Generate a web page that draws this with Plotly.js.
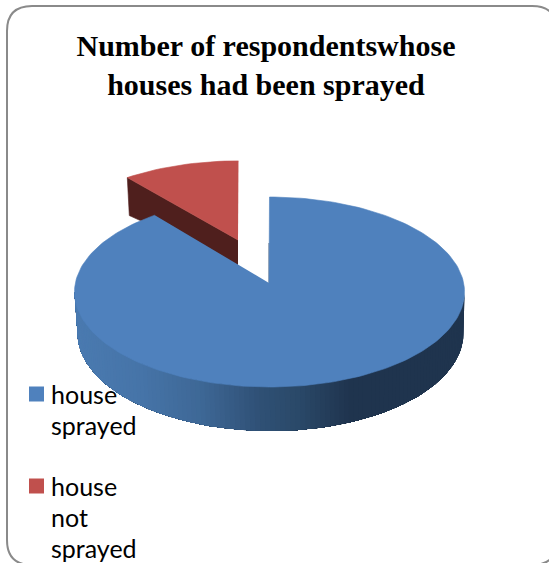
<!DOCTYPE html>
<html>
<head>
<meta charset="utf-8">
<script src="https://cdn.plot.ly/plotly-3.0.1.min.js"></script>
<style>html,body{margin:0;padding:0;background:#fff}#chart{width:549px;height:563px}</style>
</head>
<body>
<div id="chart"></div>
<script>
// Survey figures
const categories = ['house sprayed', 'house not sprayed'];
const respondents = [90, 10];
const legendLines = [['house', 'sprayed'], ['house', 'not', 'sprayed']];
const chartTitle = 'Number of respondentswhose<br>houses had been sprayed';

// Colours
const faceColors = ['#4f81bd', '#c0504d'];
const wallRed = '#4f1f1d';
const wallStops = [[75, [74, 122, 176]], [140, [70, 116, 168]], [200, [62, 104, 150]],
                   [260, [47, 80, 117]], [300, [42, 72, 104]], [350, [31, 52, 78]], [470, [31, 52, 78]]];

// Projection of the tilted disc, in plot units
const apex = {x: 269, y: 283};
const top3d = {cx: 269.5, cy: 292, rx: 195, ry: 95};
const base3d = {cx: 270.5, cy: 333, rx: 193, ry: 98};
const exploded = {dx: -31, dy: -43, sx: 0.97, sy: 0.92, wallInner: 25, wallOuter: 38, wallDrift: 2};

const total = respondents.reduce((a, b) => a + b, 0);
const blueSweep = 360 * respondents[0] / total;
const rad = d => d * Math.PI / 180;
const onEllipse = (e, deg) => [e.cx + e.rx * Math.sin(rad(deg)), e.cy - e.ry * Math.cos(rad(deg))];
const redPoint = deg => {
  const p = onEllipse(top3d, deg);
  return [apex.x + exploded.dx + exploded.sx * (p[0] - apex.x),
          apex.y + exploded.dy + exploded.sy * (p[1] - apex.y)];
};
function wallColor(x) {
  for (let i = 1; i < wallStops.length; i++) {
    if (x <= wallStops[i][0]) {
      const [x0, c0] = wallStops[i - 1], [x1, c1] = wallStops[i];
      const t = Math.max(0, (x - x0) / (x1 - x0));
      return 'rgb(' + c0.map((c, k) => Math.round(c + (c1[k] - c) * t)).join(',') + ')';
    }
  }
  return 'rgb(31,52,78)';
}
const poly = (pts, color, name, lineWidth) => ({
  type: 'scatter', mode: 'lines', x: pts.map(p => p[0]), y: pts.map(p => p[1]),
  fill: 'toself', fillcolor: color,
  line: {color: color, width: lineWidth === undefined ? 0.6 : lineWidth},
  hoverinfo: 'skip', showlegend: false, name: name
});
function arc(fn, from, to, step) {
  const out = [];
  const n = Math.ceil(Math.abs(to - from) / step);
  for (let i = 0; i <= n; i++) out.push(fn(from + (to - from) * i / n));
  return out;
}

const traces = [];

// Detached slice: cut wall first, then its face
const redStart = blueSweep;
const corner = redPoint(redStart);
const redApex = [apex.x + exploded.dx, apex.y + exploded.dy];
traces.push(poly([redApex, corner,
  [corner[0] + exploded.wallDrift, corner[1] + exploded.wallOuter],
  [redApex[0], redApex[1] + exploded.wallInner]], wallRed, categories[1] + ' wall'));
traces.push(poly([redApex].concat(arc(redPoint, redStart, 360, 2)), faceColors[1], categories[1]));

// Rim of the main slice: painted right to left, each band reaching the far end
// so that the next band covers it and the shading has no seams
const stripStep = 1.5;
for (let d = 90; d < 270; d += stripStep) {
  const upper = arc(a => onEllipse(top3d, a), d, 270, stripStep);
  const lower = arc(a => onEllipse(base3d, a), 270, d, stripStep);
  traces.push(poly(upper.concat(lower), wallColor(onEllipse(top3d, d + stripStep / 2)[0]), 'rim', 0));
}
// Thin sliver of the inner cut wall beside the gap
traces.push({type: 'scatter', mode: 'lines', x: [apex.x, apex.x], y: [apex.y, apex.y - 40],
  line: {color: 'rgba(31,52,78,0.75)', width: 1}, hoverinfo: 'skip', showlegend: false});
// Main slice face
traces.push(poly([[apex.x, apex.y]].concat(arc(d => onEllipse(top3d, d), 0, blueSweep, 1.5)),
  faceColors[0], categories[0]));

// Legend swatches and wrapped labels
const swatchX = 36.5, labelX = 51, lineGap = 30.8;
const legendTops = [394, 486];
traces.push({type: 'scatter', mode: 'markers', x: [swatchX, swatchX], y: [legendTops[0], legendTops[1]],
  marker: {symbol: 'square', size: 15, color: faceColors, line: {width: 0}},
  hoverinfo: 'skip', showlegend: false});
const annotations = [];
legendLines.forEach((lines, i) => lines.forEach((t, j) => annotations.push({
  text: t, x: labelX, y: legendTops[i] + j * lineGap, xref: 'x', yref: 'y',
  xanchor: 'left', yanchor: 'middle', showarrow: false, align: 'left',
  xshift: -2, font: {family: 'Lato, "Open Sans", sans-serif', size: 25, color: '#000'}
})));

const layout = {
  width: 549, height: 563, margin: {l: 0, r: 0, t: 0, b: 0},
  paper_bgcolor: '#fff', plot_bgcolor: '#fff', showlegend: false,
  title: {text: '<b>' + chartTitle + '</b>', x: 0.4845, xanchor: 'center', y: 0.9, yanchor: 'top',
          font: {family: '"Liberation Serif", serif', size: 30, color: '#000'}},
  xaxis: {range: [0, 549], visible: false, fixedrange: true},
  yaxis: {range: [563, 0], visible: false, fixedrange: true},
  annotations: annotations,
  shapes: [{type: 'path', xref: 'x', yref: 'y', layer: 'below',
    path: 'M 7 31 Q 7 6 32 6 L 532 6 Q 557 6 557 31 L 557 540 Q 557 565 532 565 L 32 565 Q 7 565 7 540 Z',
    line: {color: '#8a8a8a', width: 2}, fillcolor: '#fff'}]
};
Plotly.newPlot('chart', traces, layout, {displayModeBar: false, staticPlot: true});
</script>
</body>
</html>
